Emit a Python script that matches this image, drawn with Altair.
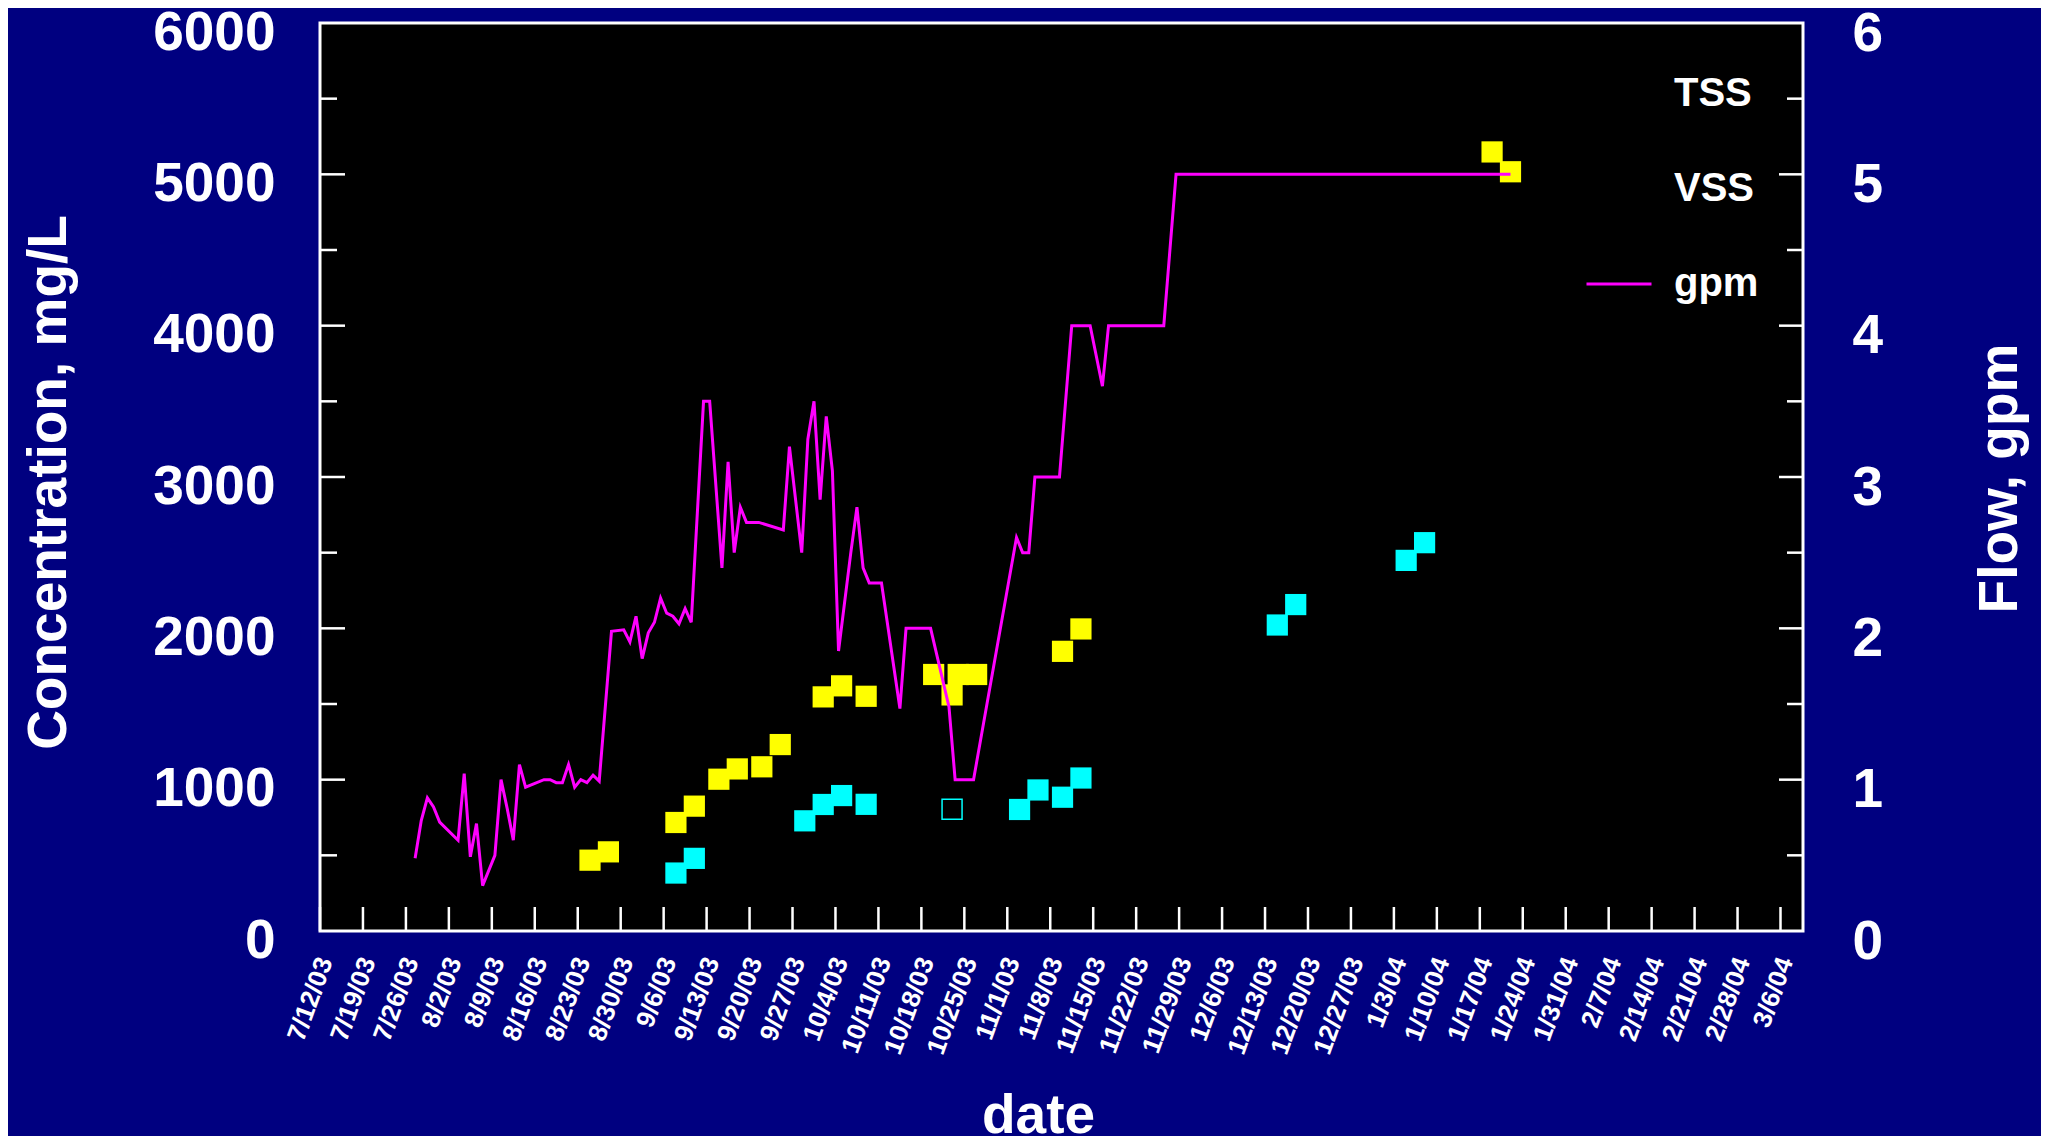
import altair as alt
import pandas as pd

FONT = "Liberation Sans"
NAVY = "#000080"
YELLOW = "#ffff00"
CYAN = "#00ffff"
MAGENTA = "#ff00ff"

W, H = 1483, 908

# ---------------- data ----------------
tick_dates = [
    "2003-07-12", "2003-07-19", "2003-07-26", "2003-08-02", "2003-08-09",
    "2003-08-16", "2003-08-23", "2003-08-30", "2003-09-06", "2003-09-13",
    "2003-09-20", "2003-09-27", "2003-10-04", "2003-10-11", "2003-10-18",
    "2003-10-25", "2003-11-01", "2003-11-08", "2003-11-15", "2003-11-22",
    "2003-11-29", "2003-12-06", "2003-12-13", "2003-12-20", "2003-12-27",
    "2004-01-03", "2004-01-10", "2004-01-17", "2004-01-24", "2004-01-31",
    "2004-02-07", "2004-02-14", "2004-02-21", "2004-02-28", "2004-03-06",
]

tss_dates = [
    "2003-08-25", "2003-08-28", "2003-09-08", "2003-09-11", "2003-09-15",
    "2003-09-18", "2003-09-22", "2003-09-25", "2003-10-02", "2003-10-05",
    "2003-10-09", "2003-10-20", "2003-10-23", "2003-10-24", "2003-10-27",
    "2003-11-10", "2003-11-13", "2004-01-19", "2004-01-22",
]
tss_values = [468, 523, 717, 825, 1003, 1071, 1085, 1232, 1547, 1620,
              1551, 1695, 1560, 1695, 1695, 1848, 1996, 5148, 5017]

vss_dates = [
    "2003-09-08", "2003-09-11", "2003-09-29", "2003-10-02", "2003-10-05",
    "2003-10-09", "2003-11-03", "2003-11-06", "2003-11-10", "2003-11-13",
    "2003-12-15", "2003-12-18", "2004-01-05", "2004-01-08",
]
vss_values = [383, 480, 728, 836, 895, 837, 803, 932, 884, 1011,
              2022, 2157, 2449, 2566]

vss_open_dates = ["2003-10-23"]
vss_open_values = [805]

gpm_dates = [
    "2003-07-27 12:00", "2003-07-28 12:00", "2003-07-29 12:00", "2003-07-30 12:00",
    "2003-07-31 12:00", "2003-08-03 12:00", "2003-08-04 12:00", "2003-08-05 12:00",
    "2003-08-06 12:00", "2003-08-07 12:00", "2003-08-09 12:00", "2003-08-10 12:00",
    "2003-08-11 12:00", "2003-08-12 12:00", "2003-08-13 12:00", "2003-08-14 12:00",
    "2003-08-17 12:00", "2003-08-18 12:00", "2003-08-19 12:00", "2003-08-20 12:00",
    "2003-08-21 12:00", "2003-08-22 12:00", "2003-08-23 12:00", "2003-08-24 12:00",
    "2003-08-25 12:00", "2003-08-26 12:00", "2003-08-28 12:00", "2003-08-30 12:00",
    "2003-08-31 12:00", "2003-09-01 12:00", "2003-09-02 12:00", "2003-09-03 12:00",
    "2003-09-04 12:00", "2003-09-05 12:00", "2003-09-06 12:00", "2003-09-07 12:00",
    "2003-09-08 12:00", "2003-09-09 12:00", "2003-09-10 12:00", "2003-09-12 12:00",
    "2003-09-13 12:00", "2003-09-15 12:00", "2003-09-16 12:00", "2003-09-17 12:00",
    "2003-09-18 12:00", "2003-09-19 12:00", "2003-09-21 12:00", "2003-09-25 12:00",
    "2003-09-26 12:00", "2003-09-28 12:00", "2003-09-29 12:00", "2003-09-30 12:00",
    "2003-10-01 12:00", "2003-10-02 12:00", "2003-10-03 12:00", "2003-10-04 12:00",
    "2003-10-06 12:00", "2003-10-07 12:00", "2003-10-08 12:00", "2003-10-09 12:00",
    "2003-10-11 12:00", "2003-10-14 12:00", "2003-10-15 12:00", "2003-10-19 12:00",
    "2003-10-22 12:00", "2003-10-23 12:00", "2003-10-26 12:00", "2003-11-02 12:00",
    "2003-11-03 12:00", "2003-11-04 12:00", "2003-11-05 12:00", "2003-11-09 12:00",
    "2003-11-11 12:00", "2003-11-14 12:00", "2003-11-16 12:00", "2003-11-17 12:00",
    "2003-11-26 12:00", "2003-11-28 12:00", "2004-01-22 00:00",
]
gpm_values = [
    0.48, 0.73, 0.88, 0.82, 0.72, 0.60, 1.04, 0.49, 0.71, 0.30,
    0.50, 1.00, 0.81, 0.60, 1.10, 0.95, 1.00, 1.00, 0.98, 0.98,
    1.10, 0.95, 1.00, 0.98, 1.03, 0.99, 1.98, 1.99, 1.91, 2.08,
    1.80, 1.97, 2.04, 2.20, 2.10, 2.08, 2.03, 2.13, 2.04, 3.50,
    3.50, 2.40, 3.10, 2.50, 2.80, 2.70, 2.70, 2.65, 3.20, 2.50,
    3.25, 3.50, 2.85, 3.40, 3.04, 1.85, 2.50, 2.80, 2.40, 2.30,
    2.30, 1.47, 2.00, 2.00, 1.48, 1.00, 1.00, 2.60, 2.50, 2.50,
    3.00, 3.00, 4.00, 4.00, 3.60, 4.00, 4.00, 5.00, 5.00,
]

legend_labels = ["TSS", "VSS", "gpm"]
legend_colors = ["#000000", "#000000", MAGENTA]

conc_ticks = [0, 1000, 2000, 3000, 4000, 5000, 6000]
conc_major = [1000, 2000, 3000, 4000, 5000]
conc_minor = [500, 1500, 2500, 3500, 4500, 5500]
flow_ticks = [0, 1, 2, 3, 4, 5, 6]
flow_major = [1, 2, 3, 4, 5]
flow_minor = [0.5, 1.5, 2.5, 3.5, 4.5, 5.5]


def dt(s, hours=0):
    y, m, d = (int(p) for p in s.split("-"))
    return alt.DateTime(year=y, month=m, date=d, hours=hours)


def local(s):
    return s if " " in s else s + " 00:00"


tss_df = pd.DataFrame({"date": [local(s) for s in tss_dates], "conc": tss_values})
vss_df = pd.DataFrame({"date": [local(s) for s in vss_dates], "conc": vss_values})
vss_open_df = pd.DataFrame({"date": [local(s) for s in vss_open_dates], "conc": vss_open_values})
gpm_df = pd.DataFrame({"date": gpm_dates, "flow": gpm_values,
                       "series": ["gpm"] * len(gpm_values)})
xtick_df = pd.DataFrame({"date": [local(s) for s in tick_dates]})
cmaj_df = pd.DataFrame({"conc": conc_major})
cmin_df = pd.DataFrame({"conc": conc_minor})
fmaj_df = pd.DataFrame({"flow": flow_major})
fmin_df = pd.DataFrame({"flow": flow_minor})

# ---------------- scales / axes ----------------
x_enc = alt.X(
    "date:T",
    scale=alt.Scale(domain=[dt("2003-07-12"), dt("2004-03-09", hours=16)]),
    axis=alt.Axis(
        values=[dt(s) for s in tick_dates], format="%-m/%-d/%y",
        labelAngle=-70, labelAlign="right", labelBaseline="middle",
        labelFont=FONT, labelFontSize=26, labelFontWeight="bold",
        labelColor="white", labelPadding=27, labelOffset=5, labelOverlap=False,
        labelFlush=False, ticks=False, tickSize=0, domain=False, grid=False,
        title="date", titleFont=FONT, titleFontSize=55, titleFontWeight="bold",
        titleColor="white", titleX=718, titleY=201, titleAlign="center",
        titleBaseline="alphabetic", titleAngle=0,
    ),
)

y_conc = alt.Y(
    "conc:Q",
    scale=alt.Scale(domain=[0, 6000], nice=False, zero=True),
    axis=alt.Axis(
        orient="left", values=conc_ticks, format="d",
        labelFont=FONT, labelFontSize=55, labelFontWeight="bold",
        labelColor="white", labelPadding=45, labelOffset=26,
        labelBaseline="alphabetic",
        ticks=False, tickSize=0, domain=False, grid=False,
        title="Concentration, mg/L", titleFont=FONT, titleFontSize=55,
        titleFontWeight="bold", titleColor="white", titleAngle=-90,
        titleX=-255, titleY=459, titleAlign="center", titleBaseline="alphabetic",
    ),
)

y_flow = alt.Y(
    "flow:Q",
    scale=alt.Scale(domain=[0, 6], nice=False, zero=True),
    axis=alt.Axis(
        orient="right", values=flow_ticks, format="d",
        labelFont=FONT, labelFontSize=55, labelFontWeight="bold",
        labelColor="white", labelPadding=49, labelOffset=27,
        labelBaseline="alphabetic",
        ticks=False, tickSize=0, domain=False, grid=False,
        title="Flow, gpm", titleFont=FONT, titleFontSize=55,
        titleFontWeight="bold", titleColor="white", titleAngle=-90,
        titleX=213, titleY=455, titleAlign="center", titleBaseline="alphabetic",
    ),
)

# ---------------- concentration layer ----------------
tss = alt.Chart(tss_df).mark_square(size=450, color=YELLOW, opacity=1).encode(x=x_enc, y=y_conc)
vss = alt.Chart(vss_df).mark_square(size=450, color=CYAN, opacity=1).encode(x=x_enc, y=y_conc)
vss_open = alt.Chart(vss_open_df).mark_square(
    size=400, color=CYAN, filled=False, strokeWidth=1.5, opacity=1
).encode(x=x_enc, y=y_conc)

tick_style = dict(color="white", strokeWidth=2.5)
left_major = alt.Chart(cmaj_df).mark_rule(**tick_style).encode(
    y=y_conc, x=alt.value(0), x2=alt.value(25))
left_minor = alt.Chart(cmin_df).mark_rule(**tick_style).encode(
    y=y_conc, x=alt.value(0), x2=alt.value(17))
bottom_ticks = alt.Chart(xtick_df).mark_rule(**tick_style).encode(
    x=x_enc, y=alt.value(H), y2=alt.value(H - 24))

conc_layer = alt.layer(left_major, left_minor, bottom_ticks, tss, vss, vss_open)

# ---------------- flow layer ----------------
gpm_line = alt.Chart(gpm_df).mark_line(strokeWidth=3).encode(
    x=x_enc,
    y=y_flow,
    color=alt.Color(
        "series:N",
        scale=alt.Scale(domain=legend_labels, range=legend_colors),
        legend=alt.Legend(
            title=None, orient="none", legendX=1265, legendY=37,
            symbolType="stroke", symbolSize=4225, symbolStrokeWidth=3,
            labelFont=FONT, labelFontSize=40, labelFontWeight="bold",
            labelColor="white", labelOffset=21, rowPadding=41,
            padding=0, labelLimit=0,
        ),
    ),
)
right_major = alt.Chart(fmaj_df).mark_rule(**tick_style).encode(
    y=y_flow, x=alt.value(W), x2=alt.value(W - 24))
right_minor = alt.Chart(fmin_df).mark_rule(**tick_style).encode(
    y=y_flow, x=alt.value(W), x2=alt.value(W - 16))

flow_layer = alt.layer(right_major, right_minor, gpm_line)

chart = (
    alt.layer(conc_layer, flow_layer)
    .resolve_scale(y="independent")
    .properties(
        width=W, height=H,
        padding={"left": 312, "top": 15, "right": 238, "bottom": 205},
        autosize=alt.AutoSizeParams(type="none"),
        background=NAVY,
    )
    .configure_view(fill="black", stroke="white", strokeWidth=3)
)

chart.save("out.html", embed_options={"renderer": "svg", "actions": False})
